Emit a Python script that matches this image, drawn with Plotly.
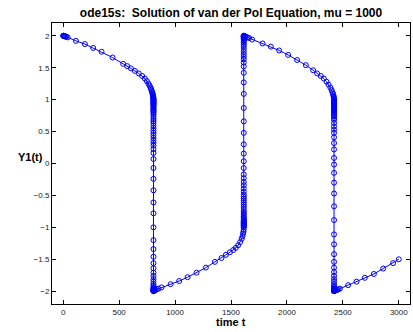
import plotly.graph_objects as go

# --- data ---
# slow branch 1 (y: 2 -> 1)
seg1_t = [0, 2, 5, 9, 14, 20, 28, 40, 114, 194, 268, 343, 441, 536, 572, 605, 641,
          676, 706, 730, 748, 762, 772, 780, 786, 791, 795, 798, 800, 802, 803.5,
          804.5, 805.3, 806, 806.5, 806.9]
seg1_y = [2.0, 2.0, 2.0, 1.995, 1.99, 1.99, 1.985, 1.975, 1.92, 1.87, 1.81, 1.75,
          1.66, 1.56, 1.525, 1.49, 1.45, 1.41, 1.37, 1.33, 1.29, 1.25, 1.22, 1.19,
          1.165, 1.14, 1.12, 1.10, 1.085, 1.07, 1.055, 1.045, 1.035, 1.025, 1.015,
          1.008]
# fast jump 1 (y: 1 -> -2)
jump1_t = 807
jump1_y = [0.995, 0.985, 0.975, 0.965, 0.955, 0.945, 0.935, 0.925, 0.915, 0.90,
           0.885, 0.87, 0.855, 0.84, 0.825, 0.81, 0.79, 0.763, 0.73, 0.696, 0.665,
           0.633, 0.595, 0.555, 0.515, 0.477, 0.44, 0.40, 0.36, 0.32, 0.28, 0.225,
           0.165, 0.07, -0.07, -0.24, -0.42, -0.61, -0.78, -1.0, -1.2, -1.34,
           -1.46, -1.56, -1.64, -1.71, -1.76, -1.81, -1.85, -1.89, -1.92, -1.94,
           -1.955, -1.965, -1.975, -1.982, -1.988, -1.993, -1.997, -2.0]
# slow branch 2 (y: -2 -> -1)
seg2_t = [808, 812, 818, 826, 838, 852, 879, 960, 1037, 1112, 1192, 1275, 1356,
          1415, 1454, 1490, 1520, 1543, 1564, 1582, 1595, 1603, 1608, 1611, 1613]
seg2_y = [-1.995, -1.99, -1.985, -1.98, -1.97, -1.96, -1.94, -1.89, -1.84, -1.78,
          -1.71, -1.63, -1.54, -1.48, -1.43, -1.39, -1.355, -1.32, -1.28, -1.23,
          -1.18, -1.14, -1.10, -1.07, -1.04]
# fast jump 2 (y: -1 -> 2)
jump2_t = 1614
jump2_y = [-1.0, -0.99, -0.98, -0.97, -0.96, -0.95, -0.94, -0.93, -0.92, -0.91,
           -0.90, -0.885, -0.87, -0.85, -0.83, -0.80, -0.775, -0.75, -0.715, -0.68,
           -0.645, -0.61, -0.58, -0.55, -0.52, -0.485, -0.44, -0.39, -0.34, -0.29,
           -0.23, -0.17, -0.07, 0.035, 0.155, 0.30, 0.48, 0.66, 0.87, 1.09, 1.27,
           1.42, 1.52, 1.58, 1.63, 1.67, 1.71, 1.75, 1.79, 1.83, 1.86, 1.89, 1.915,
           1.935, 1.95, 1.962, 1.972, 1.98, 1.987, 1.992, 1.996, 1.999, 2.0]
# slow branch 3 (y: 2 -> 1)
seg3_t = [1616, 1620, 1626, 1633, 1647, 1662, 1689, 1782, 1856, 1930, 2011, 2091,
          2169, 2234, 2270, 2303, 2330, 2354, 2372, 2388, 2399, 2407, 2412, 2416,
          2418, 2419.5, 2420.5]
seg3_y = [1.999, 1.995, 1.99, 1.985, 1.975, 1.965, 1.94, 1.88, 1.83, 1.77, 1.70,
          1.62, 1.54, 1.46, 1.41, 1.37, 1.33, 1.28, 1.235, 1.19, 1.15, 1.115, 1.09,
          1.065, 1.045, 1.025, 1.01]
# fast jump 3 (y: 1 -> -2)
jump3_t = 2421
jump3_y = [0.995, 0.985, 0.975, 0.965, 0.955, 0.945, 0.935, 0.925, 0.91, 0.895,
           0.88, 0.865, 0.85, 0.835, 0.82, 0.80, 0.78, 0.76, 0.74, 0.71, 0.685,
           0.633, 0.58, 0.53, 0.48, 0.41, 0.32, 0.22, 0.087, -0.017, -0.147, -0.30,
           -0.47, -0.67, -0.886, -1.11, -1.265, -1.42, -1.54, -1.63, -1.70, -1.76,
           -1.81, -1.85, -1.89, -1.92, -1.94, -1.955, -1.967, -1.977, -1.985,
           -1.991, -1.996, -2.0]
# slow branch 4 (y: -2 -> -1.5)
seg4_t = [2422, 2425, 2430, 2438, 2448, 2460, 2473, 2547, 2622, 2696, 2777, 2860,
          2949, 3000]
seg4_y = [-1.998, -1.995, -1.99, -1.985, -1.98, -1.97, -1.96, -1.905, -1.85,
          -1.79, -1.73, -1.645, -1.56, -1.50]

x_ticks = [0, 500, 1000, 1500, 2000, 2500, 3000]
y_ticks = [-2, -1.5, -1, -0.5, 0, 0.5, 1, 1.5, 2]
y_tick_labels = ["\u22122", "\u22121.5", "\u22121", "\u22120.5", "0", "0.5", "1", "1.5", "2"]

title_text = "ode15s:  Solution of van der Pol Equation, mu = 1000"
x_label = "time t"
y_label = "Y1(t)"

# --- assemble ---
t_all = (seg1_t + [jump1_t] * len(jump1_y) + seg2_t + [jump2_t] * len(jump2_y)
         + seg3_t + [jump3_t] * len(jump3_y) + seg4_t)
y_all = seg1_y + jump1_y + seg2_y + jump2_y + seg3_y + jump3_y + seg4_y

BLUE = "rgb(0,0,255)"
FONT = "Liberation Sans, Arial, Helvetica, sans-serif"

fig = go.Figure()
fig.add_trace(go.Scatter(
    x=t_all, y=y_all, mode="lines+markers",
    line=dict(color=BLUE, width=1),
    marker=dict(symbol="circle-open", size=5, color=BLUE, line=dict(width=1, color=BLUE)),
    showlegend=False, hoverinfo="skip",
))

axis_common = dict(
    showgrid=False, zeroline=False, showline=True, linecolor="black", linewidth=1,
    mirror="ticks", ticks="inside", ticklen=4, tickwidth=1, tickcolor="black",
    tickfont=dict(family=FONT, size=8, color="#222222"),
)
fig.update_xaxes(range=[-100, 3100], tickvals=x_ticks, **axis_common)
fig.update_yaxes(range=[-2.2, 2.2], tickvals=y_ticks, ticktext=y_tick_labels, **axis_common)

fig.update_layout(
    width=413, height=332,
    margin=dict(l=52, r=3, t=23, b=28, pad=0),
    paper_bgcolor="white", plot_bgcolor="white",
    font=dict(family=FONT, color="black"),
    title=dict(text="<b>" + title_text + "</b>", x=0.5, xref="paper",
               y=1 - 12.3 / 332, yref="container", yanchor="middle",
               font=dict(family=FONT, size=12, color="black")),
    annotations=[
        dict(text="<b>" + x_label + "</b>", xref="paper", yref="paper",
             x=0.5, y=-0.064, xanchor="center", yanchor="middle", showarrow=False,
             font=dict(family=FONT, size=11, color="black")),
        dict(text="<b>" + y_label + "</b>", xref="paper", yref="paper",
             x=-0.06, y=0.523, xanchor="center", yanchor="middle", showarrow=False,
             font=dict(family=FONT, size=11, color="black")),
    ],
)

fig.write_html("out.html")
